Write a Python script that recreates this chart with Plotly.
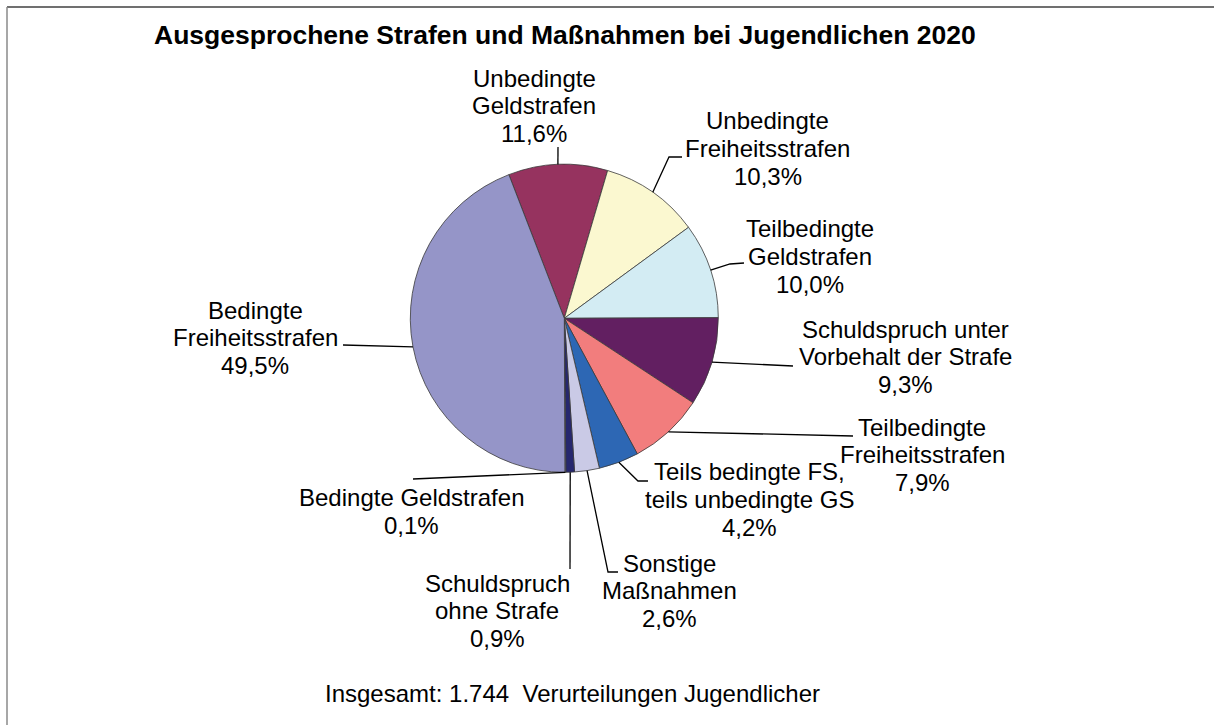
import math
import plotly.graph_objects as go

# Daten (im Uhrzeigersinn, beginnend links oben)
kategorien = ['Unbedingte Geldstrafen', 'Unbedingte Freiheitsstrafen', 'Teilbedingte Geldstrafen',
              'Schuldspruch unter Vorbehalt der Strafe', 'Teilbedingte Freiheitsstrafen',
              'Teils bedingte FS, teils unbedingte GS', 'Sonstige Maßnahmen',
              'Schuldspruch ohne Strafe', 'Bedingte Geldstrafen', 'Bedingte Freiheitsstrafen']
# Sektorgrößen, wie im Bild gezeichnet (%)
anteile = [10.4, 10.4, 10.0, 9.3, 7.9, 4.2, 2.6, 0.9, 0.1, 44.2]
# beschriftete Prozentwerte
anteile_text = ['11,6%', '10,3%', '10,0%', '9,3%', '7,9%', '4,2%', '2,6%', '0,9%', '0,1%', '49,5%']
# Beschriftungszeilen
zeilen = [['Unbedingte', 'Geldstrafen'], ['Unbedingte', 'Freiheitsstrafen'],
          ['Teilbedingte', 'Geldstrafen'], ['Schuldspruch unter', 'Vorbehalt der Strafe'],
          ['Teilbedingte', 'Freiheitsstrafen'], ['Teils bedingte FS,', 'teils unbedingte GS'],
          ['Sonstige', 'Maßnahmen'], ['Schuldspruch', 'ohne Strafe'],
          ['Bedingte Geldstrafen'], ['Bedingte', 'Freiheitsstrafen']]
farben = ['#96335F', '#FBF8D0', '#D3ECF3', '#621F61', '#F27D7D',
          '#2D67B4', '#CACAE6', '#26276E', '#7E7EB8', '#9595C8']
titel = 'Ausgesprochene Strafen und Maßnahmen bei Jugendlichen 2020'
fusszeile = 'Insgesamt: 1.744\u00a0 Verurteilungen Jugendlicher'

# Layout (Pixel)
W, H = 1214, 725
CX, CY, R = 564.3, 318.3, 154
START = -21.1
FONT = 'Liberation Sans, Arial, sans-serif'
FS = 24
LH = 27.8

label_xy = [(534, 78), (768, 121), (810, 229), (905, 329), (922, 427),
            (749, 472), (669, 563), (497, 583), (411, 498), (255, 310)]
leader_via = [[(558, 147)], [(669, 157), (682, 157)], [(730, 264), (744, 263)],
              [(793, 366)], [(853, 436)], [(638, 481), (648, 481)],
              [(608, 572), (618, 572)], [(570, 569)], [(413, 479)], [(343, 345)]]


def px(x):
    return x / W


def py(y):
    return 1 - y / H


fig = go.Figure()
fig.add_trace(go.Pie(values=anteile, labels=kategorien, sort=False, direction='clockwise',
                     rotation=START, textinfo='none', showlegend=False,
                     marker=dict(colors=farben, line=dict(color='#3a3a3a', width=0.8)),
                     domain=dict(x=[px(CX - R), px(CX + R)], y=[py(CY + R), py(CY - R)])))

annotations = []
shapes = []
total = sum(anteile)
cum = START
for i, v in enumerate(anteile):
    a0 = cum
    cum += v / total * 360
    mid = math.radians((a0 + cum) / 2)
    ex, ey = CX + R * math.sin(mid), CY - R * math.cos(mid)
    pts = [(ex, ey)] + leader_via[i]
    path = 'M ' + ' L '.join('%.5f %.5f' % (px(x), py(y)) for x, y in pts)
    shapes.append(dict(type='path', xref='paper', yref='paper', path=path,
                       line=dict(color='black', width=1.3)))
    lx, ly = label_xy[i]
    for k, t in enumerate(zeilen[i] + [anteile_text[i]]):
        annotations.append(dict(x=px(lx), y=py(ly + k * LH), xref='paper', yref='paper',
                                text=t, showarrow=False, xanchor='center', yanchor='middle',
                                font=dict(family=FONT, size=FS, color='black')))

annotations.append(dict(x=px(565), y=py(35), xref='paper', yref='paper', text='<b>' + titel + '</b>',
                        showarrow=False, xanchor='center', yanchor='middle',
                        font=dict(family=FONT, size=26.5, color='black')))
annotations.append(dict(x=px(572), y=py(693), xref='paper', yref='paper', text=fusszeile,
                        showarrow=False, xanchor='center', yanchor='middle',
                        font=dict(family=FONT, size=FS, color='black')))

# Rahmen
shapes.append(dict(type='line', xref='paper', yref='paper', x0=px(7), x1=1.01, y0=py(7), y1=py(7),
                   line=dict(color='#404040', width=1.5)))
shapes.append(dict(type='line', xref='paper', yref='paper', x0=px(7), x1=px(7), y0=py(7), y1=-0.01,
                   line=dict(color='#8a8a8a', width=1.5)))

fig.update_layout(width=W, height=H, margin=dict(l=0, r=0, t=0, b=0),
                  paper_bgcolor='white', plot_bgcolor='white',
                  annotations=annotations, shapes=shapes)
fig.write_html("out.html", config={'displayModeBar': False},
               post_script="document.body.style.margin='0';document.body.style.overflow='hidden';")
